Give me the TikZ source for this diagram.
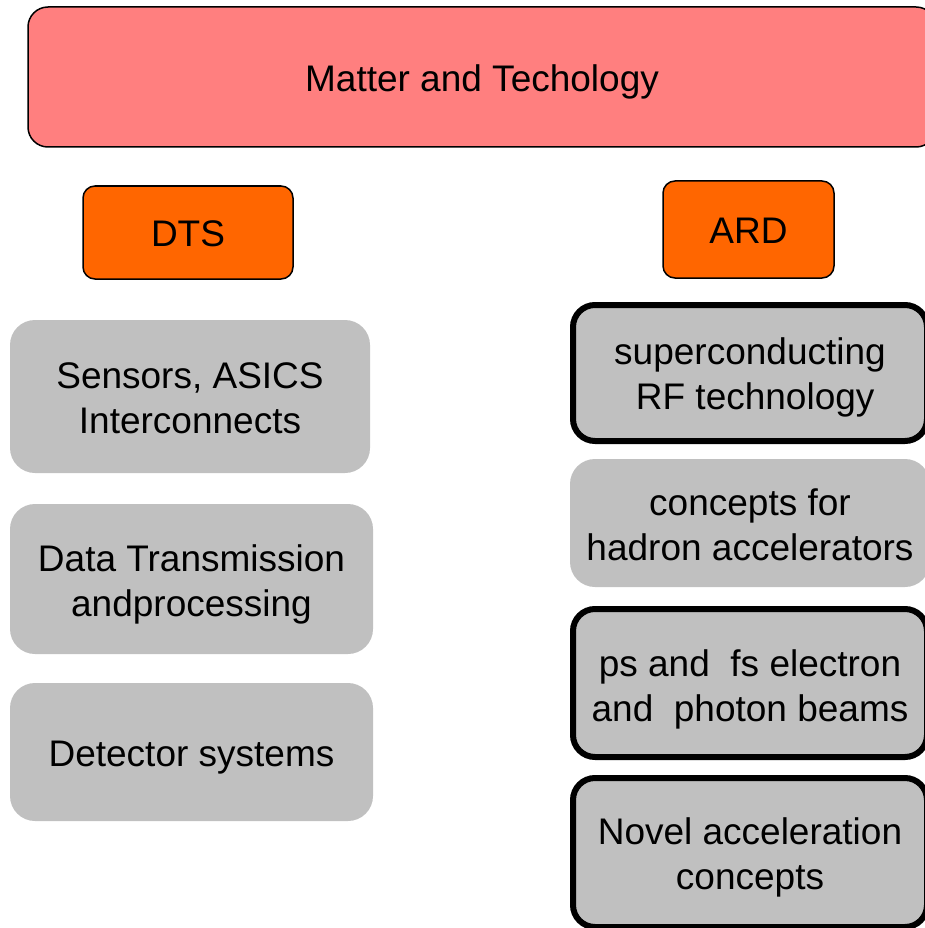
\documentclass[tikz,border=0pt]{standalone}
\usepackage{fontspec}
\setmainfont{Liberation Sans}
\definecolor{toppink}{HTML}{FF7F7F}
\definecolor{orangebox}{HTML}{FF6600}
\definecolor{graybox}{HTML}{C0C0C0}
\begin{document}
\begin{tikzpicture}[x=1pt,y=-1pt,
  lbl/.style={font=\fontsize{37}{45}\selectfont, align=center, inner sep=0pt},
  topbox/.style={draw=black, line width=1.5pt, fill=toppink, rounded corners=20pt, inner sep=0pt},
  headbox/.style={draw=black, line width=1.5pt, fill=orangebox, rounded corners=12pt, inner sep=0pt},
  plainbox/.style={fill=graybox, rounded corners=25pt, inner sep=0pt},
  boldbox/.style={draw=black, line width=6pt, fill=graybox, rounded corners=22pt, inner sep=0pt}]
\useasboundingbox (0,0) rectangle (925,928);
\clip (0,0) rectangle (925,928);
\node[topbox, minimum width=908pt, minimum height=140pt] (mt) at (482,77) {};
\node[lbl] (mtT) at ([yshift=-5pt]mt.center) {Matter and Techology};
\node[headbox, minimum width=210pt, minimum height=93pt] (dts) at (188,232.5) {};
\node[lbl] (dtsT) at ([yshift=-1pt]dts.center) {DTS};
\node[headbox, minimum width=171pt, minimum height=97pt] (ard) at (748.5,229.5) {};
\node[lbl] (ardT) at ([yshift=-1pt]ard.center) {ARD};
\node[plainbox, minimum width=360pt, minimum height=153pt] (sens) at (190,396.5) {};
\node[lbl] (sensT) at ([yshift=-2pt]sens.center) {Sensors, ASICS\\Interconnects};
\node[plainbox, minimum width=363pt, minimum height=150pt] (data) at (191.5,579) {};
\node[lbl] (dataT) at ([yshift=-5pt]data.center) {Data Transmission\\andprocessing};
\node[plainbox, minimum width=363pt, minimum height=138pt] (det) at (191.5,752) {};
\node[lbl] (detT) at ([yshift=-6pt]det.center) {Detector systems};
\node[boldbox, minimum width=354pt, minimum height=136pt] (srf) at (750,373) {};
\node[lbl] (srfT) at ([yshift=-4pt]srf.center) {superconducting\\\hspace*{0.28em}RF technology};
\node[plainbox, minimum width=360pt, minimum height=128pt] (had) at (750,523) {};
\node[lbl] (hadT) at ([yshift=-2pt]had.center) {concepts for\\hadron accelerators};
\node[boldbox, minimum width=354pt, minimum height=148pt] (psfs) at (750,683) {};
\node[lbl] (psfsT) at ([yshift=-6pt]psfs.center) {ps and\ \ fs electron\\and\ \ photon beams};
\node[boldbox, minimum width=354pt, minimum height=149pt] (nov) at (750,852.5) {};
\node[lbl] (novT) at ([yshift=-4.5pt]nov.center) {Novel acceleration\\concepts};
\end{tikzpicture}
\end{document}
